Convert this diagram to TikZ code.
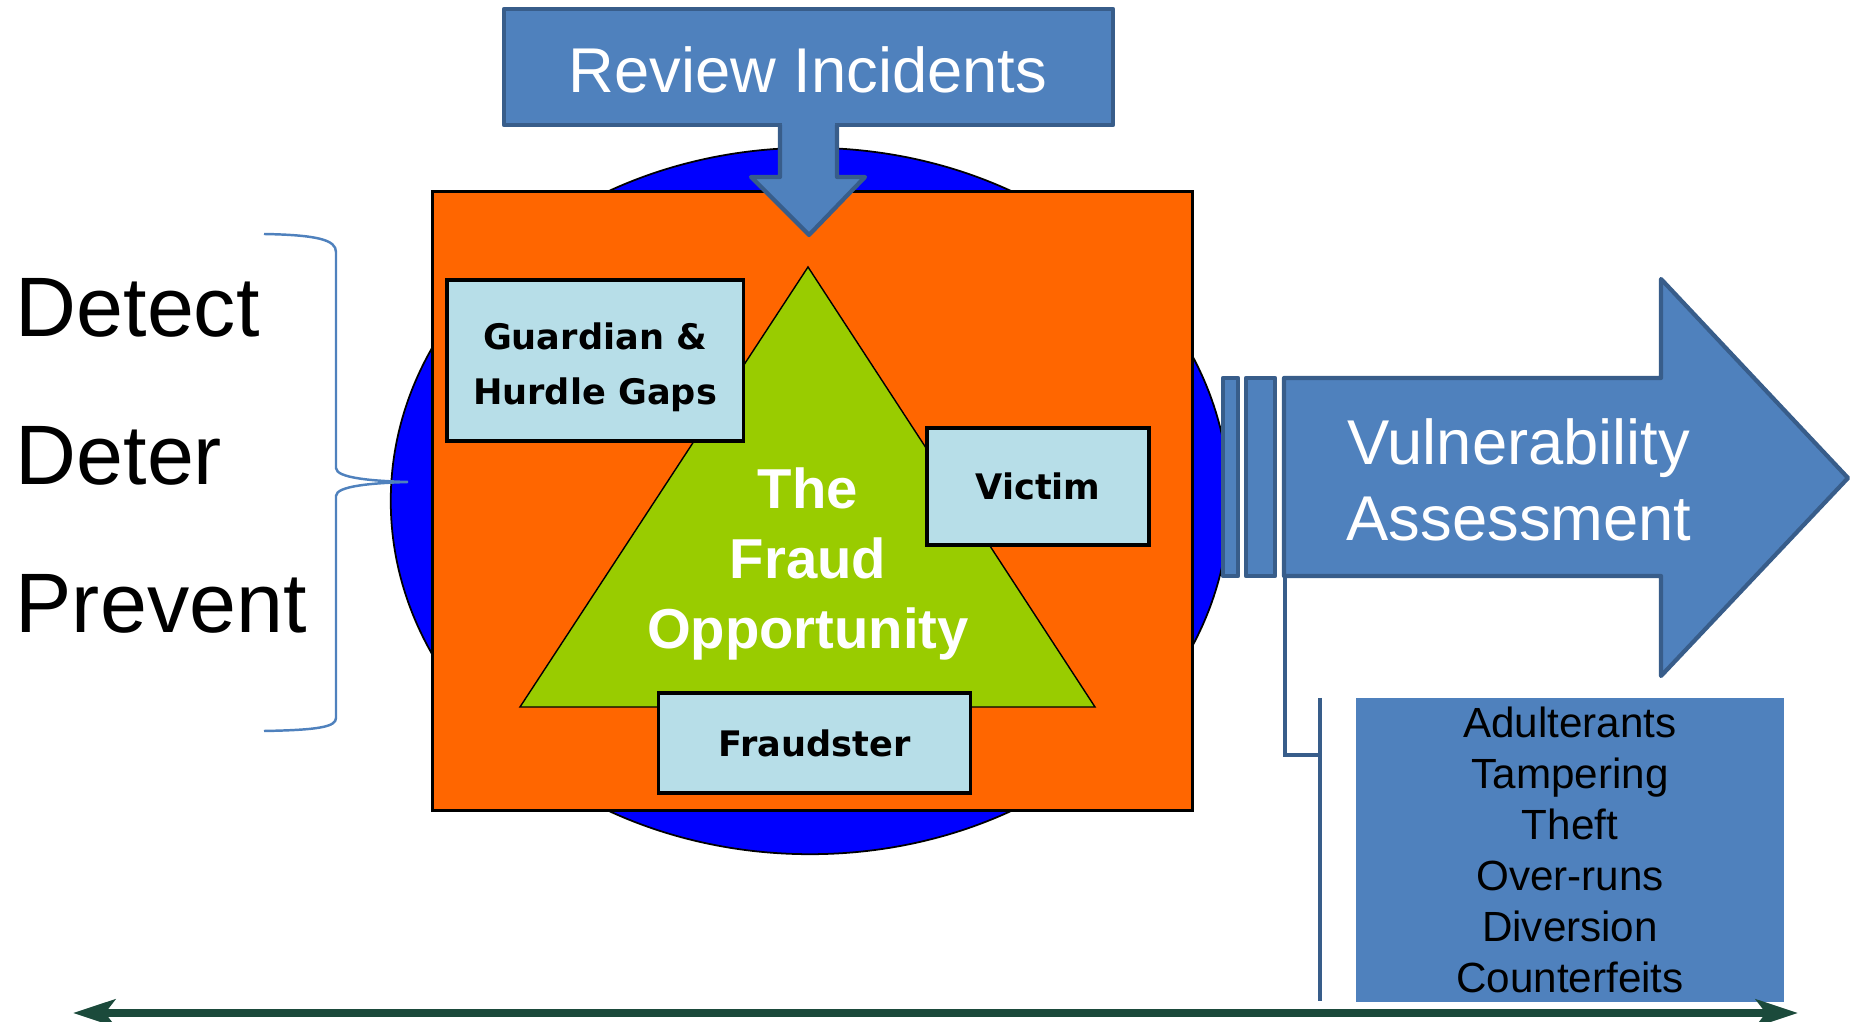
\documentclass[tikz,border=0pt]{standalone}
\usepackage{fontspec}
\setmainfont{Liberation Sans}
\newfontfamily\boxfont{DejaVu Sans}
\usetikzlibrary{positioning, arrows.meta}
\definecolor{ringblue}{HTML}{0000FF}
\definecolor{panelorange}{HTML}{FF6600}
\definecolor{trigreen}{HTML}{99CC00}
\definecolor{boxcyan}{HTML}{B7DEE8}
\definecolor{accblue}{HTML}{4F81BD}
\definecolor{accedge}{HTML}{385D8A}
\definecolor{linegreen}{HTML}{1B4A3B}
\tikzset{
    ring/.style={draw=black, fill=ringblue, line width=0.5pt},
    panel/.style={rectangle, draw=black, fill=panelorange, line width=0.9pt, inner sep=0pt},
    tri/.style={draw=black, fill=trigreen, line width=0.4pt},
    part/.style={rectangle, draw=black, fill=boxcyan, line width=0.9pt, inner sep=0pt, align=center, font=\boxfont\bfseries\fontsize{10}{15.5}\selectfont},
    parttext/.style={inner sep=0pt, align=center, font=\boxfont\bfseries\fontsize{10}{15.5}\selectfont},
    block/.style={draw=accedge, fill=accblue, line width=1.2pt, line join=round},
    blocktext/.style={text=white, align=center, inner sep=0pt, font=\fontsize{18}{21.6}\selectfont},
    listbox/.style={rectangle, fill=accblue, inner sep=0pt, align=center, font=\fontsize{12}{14.46}\selectfont},
    verb/.style={anchor=base west, inner sep=0pt, font=\fontsize{24}{28}\selectfont},
    link/.style={draw=accedge, line width=1.2pt},
    brace/.style={draw=accblue, line width=0.7pt},
    timeline/.style={draw=linegreen, line width=2.4pt, {Stealth[length=0.42cm, width=0.27cm, inset=0.1cm]}-{Stealth[length=0.42cm, width=0.27cm, inset=0.1cm]}},
}
\begin{document}
\begin{tikzpicture}[x=0.01cm, y=-0.01cm]
    \useasboundingbox (0,0) rectangle (1854,1022);
    \draw[ring] (810,501) ellipse [x radius=4.19cm, y radius=3.53cm];
    \node [panel, minimum width=7.59cm, minimum height=6.18cm] (panel) at (812.5,501) {};
    \node [block, rectangle, inner sep=0pt, minimum width=6.09cm, minimum height=1.16cm] (review) at (808.5,67) {};
    \fill[accblue] (782,120) rectangle (835,130);
    \draw[block] (780,125) -- (780,177) -- (751,177) -- (809,235) -- (865,177) -- (837,177) -- (837,125);
    \node [blocktext] (reviewtxt) at (808,70) {Review Incidents};
    \draw[tri] (808,267) -- (1095,707) -- (520,707) -- cycle;
    \node [text=white, align=center, inner sep=0pt, font=\bfseries\fontsize{16}{19.8}\selectfont] (fraud) at (808,564) {The\\Fraud\\Opportunity};
    \node [part, minimum width=2.96cm, minimum height=1.61cm] (guard) at (595,360.5) {};
    \node [parttext] (guardtxt) at ([yshift=-0.07cm]guard.center) {Guardian \&\\Hurdle Gaps};
    \node [part, minimum width=2.22cm, minimum height=1.17cm] (victim) at (1038,486.5) {Victim};
    \node [part, minimum width=3.11cm, minimum height=1.00cm] (fraudster) at (814.5,743) {Fraudster};
    \draw[block] (1223,378) rectangle (1238,576);
    \draw[block] (1246,378) rectangle (1275,576);
    \draw[block] (1284,378) -- (1661,378) -- (1661,279) -- (1848,478) -- (1661,676) -- (1661,576) -- (1284,576) -- cycle;
    \node [blocktext] (vuln) at (1519,480) {Vulnerability\\Assessment};
    \coordinate (vfoot) at (1285,576);
    \coordinate (elbow) at (1285,755);
    \coordinate (bartop) at (1320,698);
    \coordinate (barbot) at (1320,1001);
    \draw[link] (vfoot) -- (elbow) -- (elbow -| bartop);
    \draw[link] (bartop) -- (barbot);
    \node [listbox, minimum width=4.28cm, minimum height=3.04cm] (threats) at (1570,850) {Adulterants\\Tampering\\Theft\\Over-runs\\Diversion\\Counterfeits};
    \node [verb] (detect) at (15,337) {Detect};
    \node [verb] (deter) at (15,485) {Deter};
    \node [verb] (prevent) at (15,633) {Prevent};
    \draw[brace] (264,234) .. controls (318,235) and (336,240) .. (336,252) -- (336,468)
        .. controls (336,478) and (372,481) .. (408,482)
        .. controls (372,483) and (336,486) .. (336,496) -- (336,718)
        .. controls (336,727) and (318,730) .. (264,731);
    \coordinate (tleft) at (73,1013);
    \coordinate (tright) at (1798,1013);
    \draw[timeline] (tleft) -- (tright);
\end{tikzpicture}
\end{document}
